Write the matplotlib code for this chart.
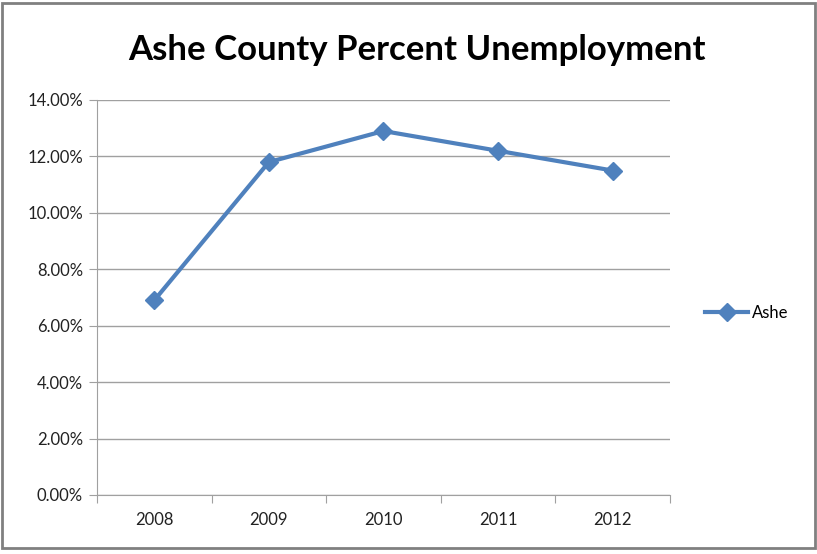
import matplotlib.pyplot as plt
from matplotlib.patches import Rectangle
from matplotlib.ticker import FuncFormatter

years = ["2008", "2009", "2010", "2011", "2012"]
ashe = [6.9, 11.8, 12.9, 12.2, 11.5]
yticks = [0, 2, 4, 6, 8, 10, 12, 14]

plt.rcParams["font.family"] = ["Lato", "DejaVu Sans"]

fig = plt.figure(figsize=(8.17, 5.54), dpi=100)
ax = fig.add_axes([0.1187, 0.1065, 0.7013, 0.713])

x = list(range(len(years)))
ax.plot(x, ashe, color="#4F81BD", linewidth=3, marker="D", markersize=9,
        label="Ashe")

ax.set_xlim(-0.5, len(years) - 0.5)
ax.set_ylim(0, 14)
ax.set_yticks(yticks)
ax.yaxis.set_major_formatter(FuncFormatter(lambda v, p: f"{v:.2f}%"))
ax.yaxis.grid(True, color="#A0A0A0", linewidth=1)
ax.set_axisbelow(True)

ax.set_xticks([i - 0.5 for i in range(len(years) + 1)])
ax.set_xticklabels([])
ax.set_xticks(x, minor=True)
ax.set_xticklabels(years, minor=True)
ax.tick_params(axis="x", which="major", length=6, color="#A0A0A0", direction="out")
ax.tick_params(axis="x", which="minor", length=0, pad=12, labelsize=12, colors="#222222")
ax.tick_params(axis="y", length=6, color="#A0A0A0", labelsize=12, colors="#222222", pad=4)

for s in ["top", "right"]:
    ax.spines[s].set_visible(False)
for s in ["left", "bottom"]:
    ax.spines[s].set_color("#A0A0A0")

fig.text(0.51, 0.91, "Ashe County Percent Unemployment", ha="center", va="center",
         fontsize=25, fontweight="bold", color="black")

ax.legend(loc="center left", bbox_to_anchor=(1.035, 0.46), frameon=False,
          fontsize=12, handlelength=2.6, handletextpad=0.2)

fig.patches.append(Rectangle((0.003, 0.01), 0.994, 0.984, transform=fig.transFigure,
                             fill=False, edgecolor="#808080", linewidth=2))

fig.savefig("out.png", dpi=100)
